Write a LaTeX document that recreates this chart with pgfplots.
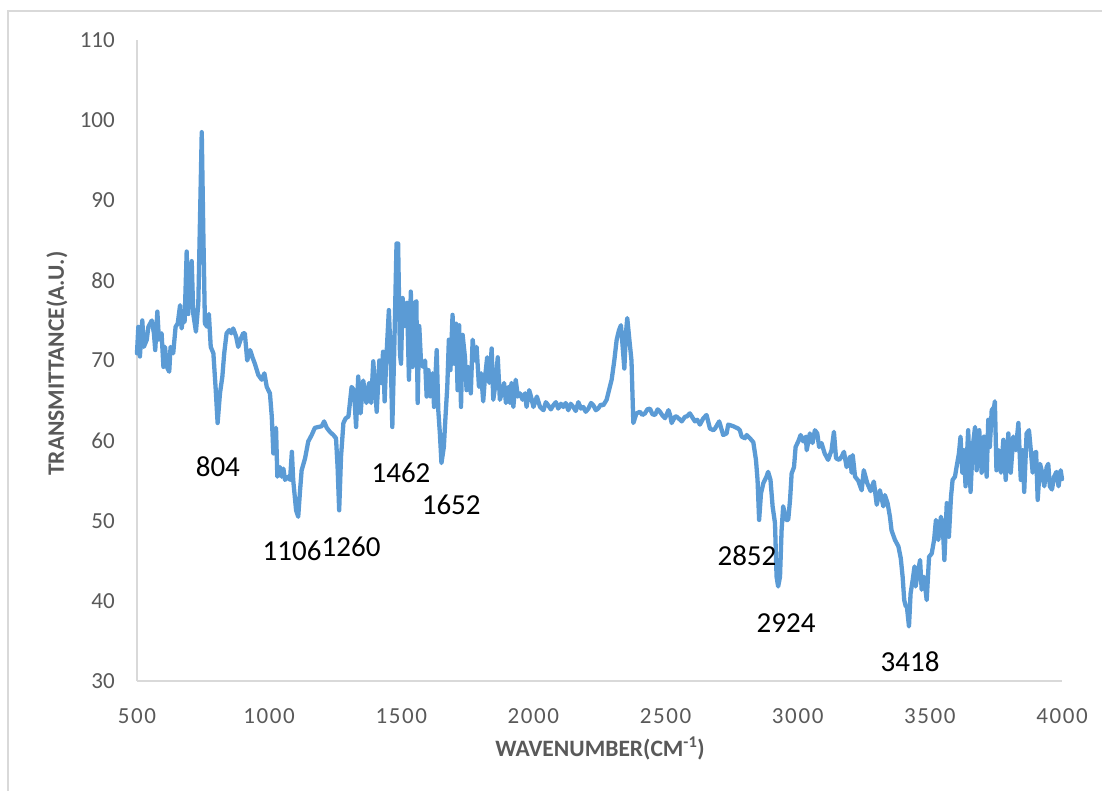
\documentclass[border=0pt]{standalone}
\usepackage{pgfplots}
\pgfplotsset{compat=1.18}
\usepackage{fontspec}
\setmainfont{Carlito}
\definecolor{specblue}{HTML}{5B9BD5}
\definecolor{axgray}{HTML}{D9D9D9}
\definecolor{txtgray}{HTML}{595959}

\pgfplotstableread{
x y
500 70.9
505 74.2
511 70.5
520 75.0
526 71.7
537 72.6
543 74.2
556 75.0
564 73.4
569 71.3
577 76.1
583 72.6
593 73.4
600 69.2
606 71.7
613 69.2
622 68.6
627 71.7
637 70.9
646 74.2
654 74.6
663 76.9
669 74.0
675 75.8
680 74.8
688 83.6
694 75.8
700 79.2
707 82.4
713 75.8
723 73.6
732 77.1
745 98.5
751 85.9
757 74.6
766 74.2
772 75.8
779 71.7
789 70.9
798 66.3
805 62.2
814 65.9
823 68.0
830 70.9
839 73.4
849 73.8
857 73.4
864 74.0
875 73.0
883 71.7
894 72.8
902 73.4
908 73.4
917 70.0
928 71.3
938 70.3
946 69.6
959 68.2
972 67.6
982 68.4
991 66.7
1003 65.9
1010 63.0
1016 58.4
1022 60.9
1026 61.6
1031 55.5
1041 56.7
1047 55.5
1054 56.5
1060 55.1
1072 55.5
1079 55.1
1086 58.6
1091 55.1
1102 51.3
1110 50.5
1117 53.8
1123 56.3
1136 57.8
1148 59.9
1161 60.7
1173 61.6
1186 61.7
1199 61.8
1208 62.4
1218 61.6
1230 61.1
1243 60.7
1253 60.3
1259 56.7
1265 51.3
1272 58.0
1281 62.2
1290 62.8
1300 63.0
1312 66.7
1321 66.3
1329 61.7
1337 68.0
1346 63.4
1356 67.5
1368 64.7
1378 67.2
1386 64.7
1394 69.9
1407 63.6
1417 70.0
1424 67.2
1431 71.1
1437 64.9
1443 70.0
1453 76.3
1460 70.4
1466 61.7
1473 70.8
1482 84.6
1488 84.6
1495 70.8
1499 69.6
1505 77.8
1514 74.3
1522 77.2
1529 67.6
1536 78.6
1543 69.2
1551 77.2
1557 77.4
1562 64.7
1568 74.3
1575 69.6
1583 69.2
1590 70.0
1596 65.5
1603 68.8
1609 65.5
1618 68.4
1624 64.2
1634 71.3
1640 63.8
1646 60.9
1652 57.2
1661 59.2
1668 63.4
1674 66.7
1680 72.6
1686 68.8
1694 75.7
1700 69.6
1707 74.6
1713 66.3
1719 74.4
1726 64.2
1732 73.2
1741 70.4
1747 66.3
1754 69.2
1763 65.9
1770 72.6
1779 70.0
1785 71.7
1794 66.7
1802 68.4
1810 64.9
1816 67.6
1825 70.4
1833 67.2
1842 71.5
1848 65.1
1857 67.2
1865 70.4
1873 65.1
1880 65.9
1889 67.2
1896 64.7
1905 66.7
1911 64.7
1917 67.2
1924 64.2
1933 67.6
1941 65.5
1949 65.9
1959 65.1
1968 65.9
1974 64.2
1984 66.3
1990 65.6
2000 64.2
2013 65.5
2025 64.2
2038 63.8
2047 64.8
2056 64.4
2066 63.9
2075 64.4
2085 64.8
2094 64.0
2104 64.6
2113 64.2
2122 64.7
2132 63.8
2141 64.6
2151 64.2
2160 63.7
2170 64.8
2180 64.0
2189 64.2
2198 63.6
2208 64.0
2218 64.7
2227 64.4
2236 63.8
2245 64.0
2255 64.5
2264 64.4
2277 65.1
2286 66.3
2296 67.6
2306 70.0
2315 72.6
2324 73.8
2331 74.4
2337 72.0
2344 69.0
2350 73.4
2355 75.3
2363 72.6
2371 70.0
2378 62.2
2390 63.4
2403 63.6
2412 63.2
2422 63.4
2431 63.9
2441 64.0
2450 63.3
2460 63.2
2470 63.9
2479 63.6
2489 63.1
2498 62.8
2511 63.8
2517 63.2
2523 62.2
2536 63.0
2542 63.0
2555 62.6
2561 62.4
2574 63.0
2580 63.0
2592 63.4
2611 62.4
2620 62.6
2630 62.0
2643 62.8
2655 63.2
2668 61.5
2681 61.3
2687 61.5
2703 62.4
2718 60.7
2731 60.9
2737 62.0
2756 61.8
2775 61.5
2781 61.3
2788 60.5
2800 60.3
2807 60.7
2819 60.3
2832 59.8
2842 57.6
2848 55.1
2854 50.1
2861 53.4
2870 54.7
2882 55.5
2888 56.1
2897 55.1
2905 51.8
2914 49.7
2920 43.0
2926 41.8
2933 43.0
2939 48.8
2945 51.8
2956 50.1
2964 50.1
2971 52.6
2977 55.9
2986 56.7
2992 59.2
3002 59.9
3011 60.7
3021 59.9
3031 60.5
3034 58.8
3046 60.9
3056 59.7
3065 61.3
3074 60.9
3081 59.2
3090 59.7
3102 58.4
3115 57.6
3128 58.8
3137 61.1
3145 57.8
3157 57.6
3166 58.0
3175 58.6
3185 56.7
3198 58.0
3204 56.0
3208 58.2
3217 55.5
3229 55.0
3242 53.8
3250 56.3
3263 54.7
3276 53.7
3288 54.9
3299 52.0
3311 53.8
3324 51.8
3330 53.2
3340 52.2
3349 50.5
3355 48.8
3368 47.6
3381 46.8
3390 45.3
3397 43.0
3403 40.1
3409 39.3
3413 39.3
3421 36.8
3427 40.9
3435 42.6
3442 44.3
3446 41.8
3454 43.4
3463 45.1
3469 41.4
3478 43.0
3488 40.1
3497 45.5
3507 45.9
3516 47.6
3523 50.1
3532 47.6
3542 50.5
3549 49.2
3555 45.1
3564 52.2
3572 48.0
3580 53.0
3586 55.1
3595 55.5
3601 56.7
3610 58.4
3616 60.5
3623 56.0
3629 58.8
3635 54.3
3645 61.3
3654 53.6
3662 59.2
3671 61.7
3677 56.3
3687 61.3
3696 56.0
3705 60.5
3715 55.5
3721 62.6
3727 59.2
3734 63.8
3743 64.2
3746 64.9
3752 56.3
3761 58.8
3769 56.0
3778 60.1
3787 55.1
3797 60.9
3806 56.0
3816 60.5
3825 58.8
3835 62.2
3844 55.1
3851 58.8
3857 53.6
3866 60.9
3875 61.3
3882 58.8
3889 56.0
3896 58.4
3902 58.6
3908 52.6
3917 57.1
3925 56.0
3933 54.3
3942 56.7
3948 57.1
3954 54.3
3962 53.9
3970 55.5
3979 56.1
3987 54.3
3995 56.3
4000 55.2
}\spectrum

\begin{document}
\begin{tikzpicture}
% page area and the frame around the chart
\path[use as bounding box] (-137bp,-110bp) rectangle (965bp,681bp);
\draw[axgray, line width=1.5bp] (-129bp,-110bp) -- (-129bp,670bp) -- (965bp,670bp);
\begin{axis}[
  at={(0,0)}, anchor=south west,
  scale only axis, width=925bp, height=641bp,
  xmin=500, xmax=4000, ymin=30, ymax=110,
  axis lines=left,
  axis line style={axgray, line width=1.3bp, -},
  xtick={500,1000,...,4000},
  ytick={30,40,...,110},
  major tick length=0pt,
  tick style={draw=none},
  ticklabel style={text=txtgray, inner sep=0pt},
  yticklabel style={font=\fontsize{23bp}{26bp}\selectfont},
  xticklabel style={font=\fontsize{23bp}{26bp}\selectfont\addfontfeatures{LetterSpace=7}},
  /pgf/number format/assume math mode=true,
  /pgf/number format/1000 sep={},
  xticklabel shift=27bp,
  yticklabel shift=22bp,
  clip=false,
]
\addplot[specblue, line width=4.3bp, line join=round, line cap=round] table {\spectrum};

% axis titles
\node[font=\bfseries\fontsize{23.5bp}{25bp}\selectfont, text=txtgray]
  at (axis cs:2252,21.6) {WAVENUMBER(CM\textsuperscript{-1})};
\node[font=\bfseries\fontsize{23.5bp}{25bp}\selectfont, text=txtgray, rotate=90]
  at (axis cs:197,69.6) {TRANSMITTANCE(A.U.)};

% band positions
\begin{scope}[every node/.style={font=\fontsize{29bp}{32bp}\selectfont, text=black, inner sep=0pt}]
\node at (axis cs:806,56.7) {804};
\node at (axis cs:1087,46.2) {1106};
\node at (axis cs:1310,46.7) {1260};
\node at (axis cs:1499,56.0) {1462};
\node at (axis cs:1689,52.0) {1652};
\node at (axis cs:2808,45.7) {2852};
\node at (axis cs:2956,37.2) {2924};
\node at (axis cs:3425,32.4) {3418};
\end{scope}
\end{axis}
\end{tikzpicture}
\end{document}
